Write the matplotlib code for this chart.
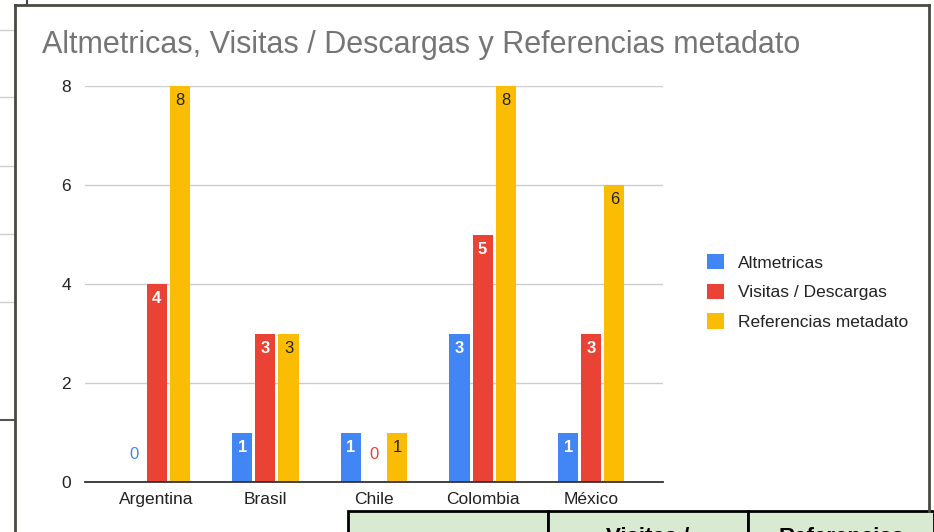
import matplotlib.pyplot as plt
import matplotlib.patches as patches
import numpy as np

plt.rcParams['font.family'] = ['Liberation Sans', 'DejaVu Sans']

paises = ["Argentina", "Brasil", "Chile", "Colombia", "México"]
altmetricas = [0, 1, 1, 3, 1]
visitas = [4, 3, 0, 5, 3]
referencias = [8, 3, 1, 8, 6]
series_names = ["Altmetricas", "Visitas / Descargas", "Referencias metadato"]
y_ticks = [0, 2, 4, 6, 8]

colors = ["#4285F4", "#EA4335", "#FBBC04"]
label_colors = ["white", "white", "#222222"]

W, H = 934, 532
fig = plt.figure(figsize=(W / 100, H / 100), dpi=100)

def fx(px):
    return px / W

def fy(py):
    return 1 - py / H

# spreadsheet bits around the chart
for yy in [30, 97, 166, 234, 302]:
    fig.add_artist(plt.Line2D([0, fx(15)], [fy(yy), fy(yy)], color="#d0d0d0", lw=1))
fig.add_artist(plt.Line2D([0, fx(15)], [fy(420), fy(420)], color="#555555", lw=1.5))
fig.add_artist(plt.Line2D([fx(27), fx(27)], [fy(0), fy(5)], color="#444444", lw=1.5))

# chart frame
fig.add_artist(plt.Line2D([fx(15), fx(15)], [fy(532), fy(5)], color="#4a4a44", lw=2))
fig.add_artist(plt.Line2D([fx(15), fx(929)], [fy(5), fy(5)], color="#4a4a44", lw=2))
fig.add_artist(plt.Line2D([fx(929), fx(929)], [fy(5), fy(511)], color="#4a4a44", lw=2))

fig.text(fx(42), fy(53), "Altmetricas, Visitas / Descargas y Referencias metadato",
         fontsize=22, color="#757575", va="baseline", ha="left")

ax = fig.add_axes([fx(85), fy(482), fx(663) - fx(85), fy(86) - fy(482)])
x = np.arange(len(paises))
width = 0.185
offset = 0.213
for i, vals in enumerate([altmetricas, visitas, referencias]):
    xs = x + (i - 1) * offset
    ax.bar(xs, vals, width, color=colors[i], label=series_names[i], zorder=3)
    for xv, v in zip(xs, vals):
        if v == 0:
            ax.text(xv, 0.55, str(v), ha="center", va="center", fontsize=12,
                    color=colors[i], zorder=4)
        else:
            ax.text(xv, v - 0.3, str(v), ha="center", va="center", fontsize=12,
                    color=label_colors[i], fontweight="bold" if i < 2 else "normal",
                    zorder=4)

ax.set_xlim(-0.66, 4.66)
ax.set_ylim(0, 8)
ax.set_yticks(y_ticks)
ax.set_xticks(x)
ax.set_xticklabels(paises)
ax.tick_params(axis="both", length=0, labelsize=12.5, colors="#222222")
ax.tick_params(axis="y", pad=10)
ax.tick_params(axis="x", pad=7)
ax.yaxis.grid(True, color="#cccccc", lw=1, zorder=0)
for s in ["top", "right", "left"]:
    ax.spines[s].set_visible(False)
ax.spines["bottom"].set_color("#333333")
ax.spines["bottom"].set_linewidth(1.3)
ax.spines["bottom"].set_zorder(5)

leg = fig.legend(loc="upper left", bbox_to_anchor=(fx(700), fy(247)), frameon=False,
                 fontsize=12.5, handlelength=1.0, handleheight=1.0, handletextpad=0.8,
                 labelspacing=0.75, borderaxespad=0)
for t in leg.get_texts():
    t.set_color("#222222")

# table header peeking at the bottom (cut by the screenshot edge, as in the original)
cells = [(348, 548, ""), (548, 748, "Visitas /"), (748, 934, "Referencias")]
for x0, x1, txt in cells:
    fig.add_artist(patches.Rectangle((fx(x0), fy(534)), fx(x1) - fx(x0), fy(511) - fy(534),
                                     facecolor="#d9ead3", edgecolor="black", lw=2,
                                     transform=fig.transFigure))
    if txt:
        fig.text(fx((x0 + x1) / 2), fy(543), txt, ha="center", va="baseline",
                 fontsize=16, fontweight="bold", color="black")

fig.savefig("out.png", dpi=100)
